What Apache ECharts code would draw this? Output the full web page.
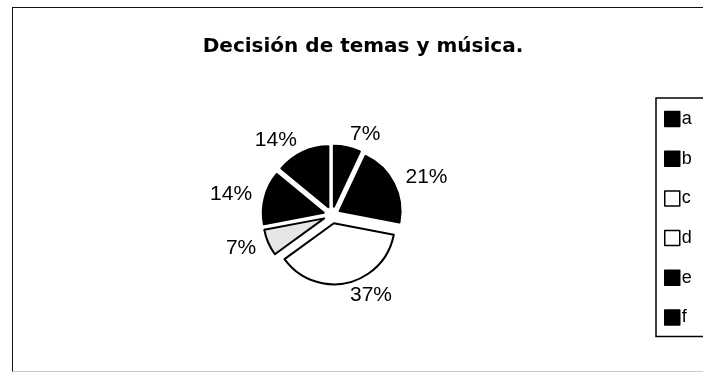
<!DOCTYPE html>
<html>
<head>
<meta charset="utf-8">
<script src="https://cdn.jsdelivr.net/npm/echarts@6/dist/echarts.min.js"></script>
<style>
  html, body { margin: 0; padding: 0; background: #fff; }
  #chart { position: absolute; left: 0; top: 0; width: 703px; height: 372px; }
  #frame { position: absolute; left: 12px; top: 7px; width: 800px; height: 363px;
           border-left: 1.5px solid #111; border-top: 1.5px solid #111; border-bottom: 1px solid #ccc;
           pointer-events: none; }
</style>
</head>
<body>
<div id="chart"></div>
<div id="frame"></div>
<script>
// ---- data ----
const titleText = 'Decisión de temas y música.';
const categories = ['a', 'b', 'c', 'd', 'e', 'f'];
const percents = [7, 21, 37, 7, 14, 14];
const fills = ['#000000', '#000000', '#ffffff', '#e6e6e6', '#000000', '#000000'];
const legendFills = ['#000000', '#000000', '#ffffff', '#ffffff', '#000000', '#000000'];

const chart = echarts.init(document.getElementById('chart'), null, { renderer: 'canvas' });

const pieData = categories.map((name, i) => ({
  name: name,
  value: percents[i],
  selected: true,
  itemStyle: { color: fills[i], borderColor: '#000', borderWidth: 2 }
}));

chart.setOption({
  animation: false,
  backgroundColor: '#fff',
  title: {
    text: titleText,
    left: 358,
    textAlign: 'center',
    top: 32,
    textStyle: { fontFamily: 'DejaVu Sans', fontWeight: 'bold', fontSize: 20, color: '#000' }
  },
  legend: {
    orient: 'vertical',
    left: 656,
    top: 98,
    padding: [12, 40, 10, 8],
    borderColor: '#000',
    borderWidth: 1.5,
    itemWidth: 15,
    itemHeight: 15,
    itemGap: 21.7,
    icon: 'rect',
    selectedMode: false,
    textStyle: { fontFamily: 'Liberation Sans', fontSize: 18, color: '#000', padding: [0, 0, 0, -3] },
    data: categories.map((name, i) => ({
      name: name,
      itemStyle: { color: legendFills[i], borderColor: '#000', borderWidth: 1.5 }
    }))
  },
  series: [{
    type: 'pie',
    center: [332, 215],
    radius: 61,
    startAngle: 90,
    clockwise: true,
    selectedMode: 'multiple',
    selectedOffset: 8.5,
    avoidLabelOverlap: false,
    emphasis: { disabled: true },
    select: { itemStyle: { borderColor: '#000', borderWidth: 2 } },
    label: {
      show: true,
      position: 'outside',
      formatter: '{c}%',
      fontFamily: 'Liberation Sans',
      fontSize: 21,
      color: '#000',
      distanceToLabelLine: 0
    },
    labelLine: { show: false, length: 13, length2: 0 },
    data: pieData
  }]
});
</script>
</body>
</html>
